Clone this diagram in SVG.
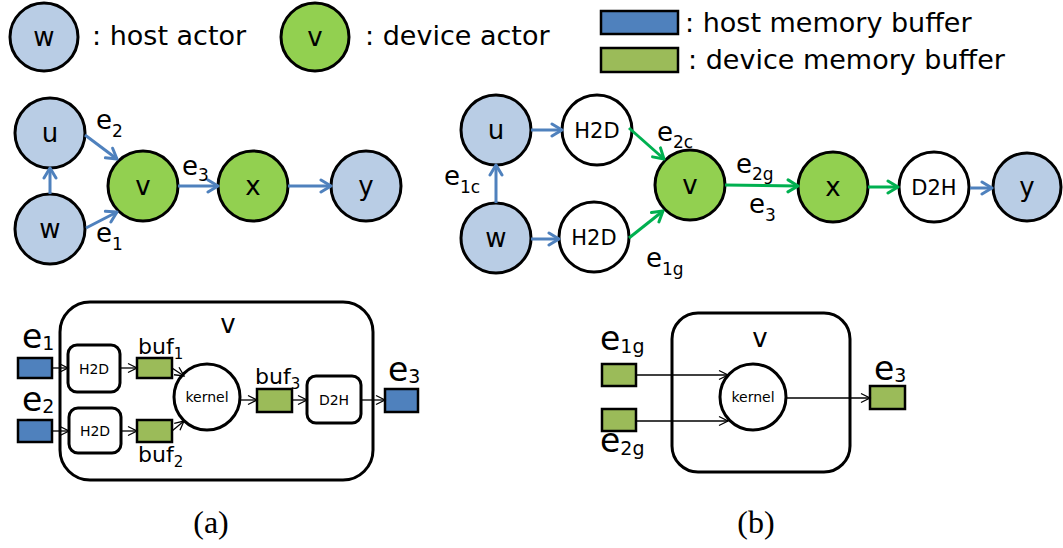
<svg xmlns="http://www.w3.org/2000/svg" width="1063" height="548" viewBox="0 0 1063 548">
  <style>
    text { font-family: "DejaVu Sans", "Liberation Sans", sans-serif; fill: #000; }
    .host { fill: #B9CDE5; stroke: #000; stroke-width: 3; }
    .dev { fill: #92D050; stroke: #000; stroke-width: 3; }
    .copy { fill: #fff; stroke: #000; stroke-width: 3; }
    .hbuf { fill: #4F81BD; stroke: #000; stroke-width: 2.5; }
    .dbuf { fill: #9BBB59; stroke: #000; stroke-width: 2.5; }
    .frame { fill: #fff; stroke: #000; stroke-width: 3; }
    .blue { stroke: #4F81BD; stroke-width: 3; fill: none; marker-end: url(#ahBlue); }
    .green { stroke: #00B050; stroke-width: 3; fill: none; marker-end: url(#ahGreen); }
    .thin { stroke: #000; stroke-width: 1.3; fill: none; marker-end: url(#ahBlack); }
    .leg { font-size: 27px; }
    .lbl { font-size: 26px; }
    .big { font-size: 33px; }
    .node { font-size: 26px; text-anchor: middle; }
    .op { font-size: 21px; text-anchor: middle; }
    .sm { font-size: 14px; text-anchor: middle; }
    .cap { font-family: "Liberation Serif", serif; font-size: 32px; text-anchor: middle; }
  </style>
  <defs>
    <marker id="ahBlue" markerUnits="userSpaceOnUse" markerWidth="16" markerHeight="16" viewBox="0 0 16 16" refX="13" refY="8" orient="auto">
      <path d="M3,2 L13,8 L3,14" fill="none" stroke="#4F81BD" stroke-width="3" stroke-linecap="round" stroke-linejoin="round"/>
    </marker>
    <marker id="ahGreen" markerUnits="userSpaceOnUse" markerWidth="16" markerHeight="16" viewBox="0 0 16 16" refX="13" refY="8" orient="auto">
      <path d="M3,2 L13,8 L3,14" fill="none" stroke="#00B050" stroke-width="3" stroke-linecap="round" stroke-linejoin="round"/>
    </marker>
    <marker id="ahBlack" markerUnits="userSpaceOnUse" markerWidth="12" markerHeight="12" viewBox="0 0 12 12" refX="10" refY="6" orient="auto">
      <path d="M1,1.5 L10,6 L1,10.5" fill="none" stroke="#000" stroke-width="1.3"/>
    </marker>
  </defs>

  <!-- legend -->
  <g id="legend">
    <circle class="host" cx="44" cy="37" r="34"/>
    <text class="node" x="44" y="46">w</text>
    <text class="leg" x="92" y="45">: host actor</text>
    <circle class="dev" cx="315" cy="37" r="34"/>
    <text class="node" x="315" y="46">v</text>
    <text class="leg" x="365" y="45">: device actor</text>
    <rect class="hbuf" x="601" y="11" width="77" height="23"/>
    <text class="leg" x="685" y="32">: host memory buffer</text>
    <rect class="dbuf" x="601" y="48" width="77" height="24"/>
    <text class="leg" x="688" y="69">: device memory buffer</text>
  </g>

  <!-- (a) actor graph -->
  <g id="a-u"><circle class="host" cx="50" cy="133" r="35"/><text class="node" x="50" y="142">u</text></g>
  <g id="a-w"><circle class="host" cx="50" cy="229" r="35"/><text class="node" x="50" y="238">w</text></g>
  <g id="a-v"><circle class="dev" cx="143" cy="186" r="35"/><text class="node" x="143" y="195">v</text></g>
  <g id="a-x"><circle class="dev" cx="253" cy="186" r="35"/><text class="node" x="253" y="195">x</text></g>
  <g id="a-y"><circle class="host" cx="366" cy="186" r="35"/><text class="node" x="366" y="195">y</text></g>

  <!-- (b) actor graph with copy actors -->
  <g id="b-u"><circle class="host" cx="496" cy="130" r="35"/><text class="node" x="496" y="139">u</text></g>
  <g id="b-w"><circle class="host" cx="496" cy="238" r="35"/><text class="node" x="496" y="247">w</text></g>
  <g id="b-h2d-top"><circle class="copy" cx="597" cy="130" r="35"/><text class="op" x="597" y="138">H2D</text></g>
  <g id="b-h2d-bot"><circle class="copy" cx="594" cy="237" r="35"/><text class="op" x="594" y="245">H2D</text></g>
  <g id="b-v"><circle class="dev" cx="690" cy="185" r="35"/><text class="node" x="690" y="194">v</text></g>
  <g id="b-x"><circle class="dev" cx="833" cy="187" r="35"/><text class="node" x="833" y="196">x</text></g>
  <g id="b-d2h"><circle class="copy" cx="934" cy="187" r="35"/><text class="op" x="934" y="195">D2H</text></g>
  <g id="b-y"><circle class="host" cx="1027" cy="187" r="34"/><text class="node" x="1027" y="196">y</text></g>

  <!-- (a) inside of device actor v -->
  <g id="a-detail">
    <rect class="frame" x="60" y="302" width="313" height="178" rx="30"/>
    <text class="node" x="228" y="333" font-size="28">v</text>
    <rect class="copy" x="68" y="345" width="52" height="47" rx="9"/>
    <text class="sm" x="94" y="374">H2D</text>
    <rect class="copy" x="69" y="408" width="52" height="45" rx="9"/>
    <text class="sm" x="95" y="436">H2D</text>
    <circle class="copy" cx="207" cy="397" r="33"/>
    <text class="sm" x="207" y="402">kernel</text>
    <rect class="copy" x="307" y="376" width="54" height="47" rx="9"/>
    <text class="sm" x="334" y="405">D2H</text>
    <rect class="hbuf" x="18" y="358" width="34" height="20"/>
    <rect class="hbuf" x="18" y="420" width="34" height="22"/>
    <rect class="dbuf" x="137" y="358" width="35" height="20"/>
    <rect class="dbuf" x="137" y="420" width="35" height="22"/>
    <rect class="dbuf" x="257" y="389" width="35" height="23"/>
    <rect class="hbuf" x="385" y="389" width="33" height="23"/>
    <text class="big" x="22" y="348">e<tspan font-size="19" dy="2">1</tspan></text>
    <text class="big" x="22" y="411">e<tspan font-size="19" dy="2">2</tspan></text>
    <text class="big" x="388" y="381">e<tspan font-size="19" dy="2">3</tspan></text>
    <text x="138" y="354" font-size="22">buf<tspan font-size="15" dy="5">1</tspan></text>
    <text x="138" y="462" font-size="22">buf<tspan font-size="15" dy="5">2</tspan></text>
    <text x="255" y="384" font-size="22">buf<tspan font-size="15" dy="5">3</tspan></text>
  </g>

  <!-- (b) inside of device actor v -->
  <g id="b-detail">
    <rect class="frame" x="672" y="313" width="178" height="159" rx="26"/>
    <text class="node" x="760" y="347" font-size="28">v</text>
    <circle class="copy" cx="753" cy="397" r="33"/>
    <text class="sm" x="753" y="402">kernel</text>
    <rect class="dbuf" x="602" y="364" width="34" height="22"/>
    <rect class="dbuf" x="602" y="409" width="34" height="22"/>
    <rect class="dbuf" x="870" y="386" width="35" height="23"/>
    <text class="big" x="600" y="350">e<tspan font-size="19" dy="3">1g</tspan></text>
    <text class="big" x="600" y="452">e<tspan font-size="19" dy="3">2g</tspan></text>
    <text class="big" x="874" y="380">e<tspan font-size="19" dy="2">3</tspan></text>
  </g>

  <!-- connectors -->
  <g id="connectors">
    <!-- (a) graph -->
    <line class="blue" x1="50" y1="194" x2="50" y2="168"/>
    <line class="blue" x1="85" y1="135" x2="117" y2="159"/>
    <line class="blue" x1="86" y1="228" x2="117" y2="212"/>
    <line class="blue" x1="178" y1="186" x2="218" y2="186"/>
    <line class="blue" x1="288" y1="186" x2="331" y2="186"/>
    <!-- (b) graph -->
    <line class="blue" x1="496" y1="203" x2="496" y2="165"/>
    <line class="blue" x1="531" y1="130" x2="562" y2="130"/>
    <line class="blue" x1="531" y1="239" x2="559" y2="239"/>
    <line class="green" x1="629" y1="128" x2="664" y2="159"/>
    <line class="green" x1="629" y1="238" x2="663" y2="211"/>
    <line class="green" x1="725" y1="185" x2="798" y2="186"/>
    <line class="green" x1="868" y1="187" x2="898" y2="187"/>
    <line class="blue" x1="970" y1="188" x2="992" y2="188"/>
    <!-- (a) detail -->
    <line class="thin" x1="52" y1="368" x2="68" y2="368"/>
    <line class="thin" x1="52" y1="431" x2="69" y2="431"/>
    <line class="thin" x1="120" y1="368" x2="137" y2="368"/>
    <line class="thin" x1="121" y1="431" x2="137" y2="431"/>
    <line class="thin" x1="172" y1="368" x2="184" y2="376"/>
    <line class="thin" x1="172" y1="431" x2="184" y2="421"/>
    <line class="thin" x1="240" y1="400" x2="257" y2="400"/>
    <line class="thin" x1="292" y1="400" x2="307" y2="400"/>
    <line class="thin" x1="361" y1="400" x2="385" y2="400"/>
    <!-- (b) detail -->
    <line class="thin" x1="636" y1="375" x2="728" y2="375"/>
    <line class="thin" x1="636" y1="421" x2="728" y2="421"/>
    <line class="thin" x1="786" y1="398" x2="870" y2="398"/>
  </g>

  <!-- edge labels -->
  <g id="edge-labels">
    <text class="lbl" x="96" y="129">e<tspan font-size="17" dy="8">2</tspan></text>
    <text class="lbl" x="182" y="175">e<tspan font-size="17" dy="6">3</tspan></text>
    <text class="lbl" x="96" y="242">e<tspan font-size="17" dy="8">1</tspan></text>
    <text class="lbl" x="444" y="185">e<tspan font-size="17" dy="8">1c</tspan></text>
    <text class="lbl" x="657" y="141">e<tspan font-size="17" dy="7">2c</tspan></text>
    <text class="lbl" x="736" y="173">e<tspan font-size="17" dy="7">2g</tspan></text>
    <text class="lbl" x="749" y="213">e<tspan font-size="17" dy="8">3</tspan></text>
    <text class="lbl" x="646" y="267">e<tspan font-size="17" dy="8">1g</tspan></text>
  </g>

  <text class="cap" x="211" y="533">(a)</text>
  <text class="cap" x="756" y="533">(b)</text>
</svg>
